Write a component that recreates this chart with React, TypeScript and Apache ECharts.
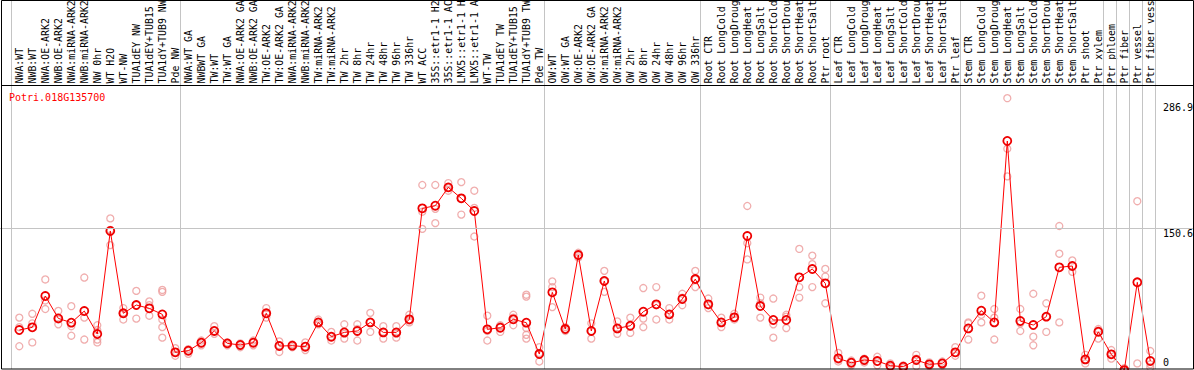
import React, { useEffect, useRef } from "react";
import * as echarts from "echarts";

const categories = [
  "NWA:WT", "NWB:WT", "NWA:OE-ARK2", "NWB:OE-ARK2", "NWA:miRNA-ARK2", "NWB:miRNA-ARK2",
  "NW 0hr", "WT H2O", "WT-NW", "TUA1dEY NW", "TUA1dEY+TUB15", "TUA1dY+TUB9 NW", "Pde NW",
  "NWA:WT GA", "NWBWT GA", "TW:WT", "TW:WT GA", "NWA:OE-ARK2 GA", "NWB:OE-ARK2 GA",
  "TW:OE-ARK2", "TW:OE-ARK2 GA", "NWA:miRNA-ARK2", "NWB:miRNA-ARK2", "TW:miRNA-ARK2",
  "TW:miRNA-ARK2", "TW 2hr", "TW 8hr", "TW 24hr", "TW 48hr", "TW 96hr", "TW 336hr",
  "WT ACC", "35S::etr1-1 H2O", "35S::etr1-1 ACC", "LMX5::etr1-1 H2O", "LMX5::etr1-1 ACC",
  "WT-TW", "TUA1dEY TW", "TUA1dEY+TUB15", "TUA1dY+TUB9 TW", "Pde TW",
  "OW:WT", "OW:WT GA", "OW:OE-ARK2", "OW:OE-ARK2 GA", "OW:miRNA-ARK2", "OW:miRNA-ARK2",
  "OW 2hr", "OW 8hr", "OW 24hr", "OW 48hr", "OW 96hr", "OW 336hr",
  "Root CTR", "Root LongCold", "Root LongDrought", "Root LongHeat", "Root LongSalt",
  "Root ShortCold", "Root ShortDrought", "Root ShortHeat", "Root ShortSalt", "Ptr root",
  "Leaf CTR", "Leaf LongCold", "Leaf LongDrought", "Leaf LongHeat", "Leaf LongSalt",
  "Leaf ShortCold", "Leaf ShortDrought", "Leaf ShortHeat", "Leaf ShortSalt", "Ptr leaf",
  "Stem CTR", "Stem LongCold", "Stem LongDrought", "Stem LongHeat", "Stem LongSalt",
  "Stem ShortCold", "Stem ShortDrought", "Stem ShortHeat", "Stem ShortSalt", "Ptr shoot",
  "Ptr xylem", "Ptr phloem", "Ptr fiber", "Ptr vessel", "Ptr fiber vessel",
];

const meanValues = [
  44.0, 46.8, 79.6, 56.2, 51.7, 63.9, 39.8, 147.8, 61.5, 70.2, 66.7, 60.4, 20.6,
  22.3, 30.7, 43.0, 30.0, 28.3, 30.7, 61.5, 27.2, 27.6, 26.5, 52.0, 37.0, 41.5, 43.0,
  52.0, 41.5, 41.5, 55.2, 171.5, 174.3, 193.5, 182.0, 168.7, 44.7, 46.4, 55.2, 51.7, 18.8,
  83.5, 45.0, 122.6, 43.0, 95.4, 45.7, 48.5, 63.2, 70.9, 60.4, 76.5, 97.4,
  70.9, 52.0, 57.3, 142.5, 69.1, 54.5, 54.5, 99.2, 107.9, 92.9,
  14.3, 9.7, 12.5, 11.5, 6.6, 5.6, 12.5, 8.0, 9.0, 20.6,
  45.7, 64.3, 52.0, 242.1, 53.4, 49.2, 58.0, 109.7, 111.1, 13.2,
  42.2, 18.5, 2.0, 94.0, 11.5,
];

const replicateValues = [
  [57, 47, 27], [61, 51, 31], [97, 75, 66], [64, 55, 50], [69, 48, 38], [99, 57, 34],
  [49, 44, 34, 31], [161, 149, 133], [67, 62, 55], [85, 70, 56], [74, 70, 59],
  [86, 84, 55, 47, 36], [25, 21, 17],
  [24, 22, 19], [33, 30, 28], [48, 43, 40], [31, 30, 28], [30, 28, 26], [33, 31, 28],
  [67, 61, 57], [32, 28, 21], [29, 28, 26], [31, 27, 23], [55, 52, 50], [42, 37, 33],
  [50, 40, 35], [50, 45, 33], [62, 52, 42], [48, 42, 35], [48, 40, 36], [60, 54, 52],
  [196, 168, 150], [196, 171, 156], [198, 193, 190], [199, 182, 165], [190, 172, 142],
  [59, 43, 33], [49, 48, 42], [60, 57, 49], [81, 79, 46, 39, 35], [26, 20, 11],
  [95, 89, 68], [47, 45, 43], [125, 122, 120], [51, 43, 35], [106, 95, 84], [53, 45, 40],
  [57, 48, 41], [88, 56, 47], [89, 70, 55], [67, 60, 55], [82, 78, 70], [106, 97, 89],
  [77, 70, 67], [57, 52, 47], [61, 57, 55], [174, 135, 118], [78, 72, 57],
  [77, 50, 36], [60, 58, 46], [129, 89, 78], [122, 113, 89], [108, 100, 72],
  [20, 13, 11], [12, 10, 7], [14, 12, 10], [16, 11, 7], [9, 6, 5],
  [7, 5, 4], [18, 14, 6], [10, 8, 6], [11, 9, 7], [26, 20, 17],
  [51, 52, 34], [80, 60, 52], [66, 57, 34], [287, 234, 205], [66, 51, 43],
  [82, 37, 28], [72, 58, 42], [153, 124, 52], [117, 111, 105], [18, 13, 9],
  [45, 42, 35], [23, 19, 14], [4, 2, 1], [179, 9], [22, 8, 5],
];

const groupBoundaries = [0, 13, 41, 53, 63, 73, 84, 85, 86, 87, 88];
const yAxisMax = 300.8;
const gridLineValue = 150.6;
const yTickLabels = ["286.9", "150.6", "0"];
const geneId = "Potri.018G135700";

export default function App() {
  const ref = useRef<HTMLDivElement>(null);

  useEffect(() => {
    document.body.style.margin = "0";
    const chart = echarts.init(ref.current!, null, { renderer: "svg" });
    const mono = "DejaVu Sans Mono";

    const repData: number[][] = [];
    replicateValues.forEach((vals, i) => vals.forEach((v) => repData.push([i, v])));
    const meanData = meanValues.map((v, i) => [i, v]);

    const option: any = {
      animation: false,
      backgroundColor: "#ffffff",
      title: {
        text: geneId,
        left: 9,
        top: 92,
        padding: 0,
        textStyle: { color: "#ff0000", fontFamily: mono, fontSize: 10, fontWeight: "normal" },
      },
      grid: [
        { left: 12.8, top: 85, width: 1144, height: 287, containLabel: false, outerBoundsMode: "none" },
        { left: 11.5, top: 0, width: 1144, height: 369, containLabel: false, outerBoundsMode: "none" },
        { left: 0, top: 85, width: 1194, height: 287, containLabel: false, outerBoundsMode: "none" },
      ],
      xAxis: [
        {
          type: "category",
          gridIndex: 0,
          data: categories,
          position: "top",
          boundaryGap: true,
          axisLine: { show: false },
          axisTick: { show: false },
          splitLine: { show: false },
          axisLabel: {
            interval: 0,
            rotate: 90,
            margin: 1.5,
            hideOverlap: false,
            fontFamily: mono,
            fontSize: 9.9,
            color: "#000000",
            padding: [0, 0, 4, 0],
            width: 88,
            overflow: "truncate",
            ellipsis: "",
          },
        },
        { type: "value", gridIndex: 1, min: 0, max: 88, show: false },
        { type: "value", gridIndex: 2, min: 0, max: 1, show: false },
      ],
      yAxis: [
        { type: "value", gridIndex: 0, min: 0, max: yAxisMax, show: false },
        { type: "value", gridIndex: 1, min: 0, max: 1, show: false },
        { type: "value", gridIndex: 2, min: 0, max: yAxisMax, show: false },
      ],
      series: [
        {
          type: "line",
          xAxisIndex: 1,
          yAxisIndex: 1,
          data: [[0, -1]],
          symbol: "none",
          lineStyle: { opacity: 0 },
          silent: true,
          markLine: {
            silent: true,
            symbol: ["none", "none"],
            label: { show: false },
            lineStyle: { color: "#c4c4c4", type: "solid", width: 1 },
            data: groupBoundaries.map((b) => ({ xAxis: b })),
          },
        },
        {
          type: "line",
          xAxisIndex: 2,
          yAxisIndex: 2,
          data: [[0, -10]],
          symbol: "none",
          lineStyle: { opacity: 0 },
          silent: true,
          markLine: {
            silent: true,
            symbol: ["none", "none"],
            label: { show: false },
            lineStyle: { color: "#c4c4c4", type: "solid", width: 1 },
            data: [{ yAxis: gridLineValue }],
          },
        },
        {
          type: "scatter",
          xAxisIndex: 0,
          yAxisIndex: 0,
          data: repData,
          symbol: "circle",
          symbolSize: 7,
          itemStyle: { color: "rgba(0,0,0,0)", borderColor: "#ec9a9a", borderWidth: 1.3 },
          z: 3,
        },
        {
          type: "line",
          xAxisIndex: 0,
          yAxisIndex: 0,
          data: meanData,
          symbol: "circle",
          symbolSize: 8,
          clip: false,
          lineStyle: { color: "#ff0000", width: 1 },
          itemStyle: { color: "rgba(255,255,255,0)", borderColor: "#ee0000", borderWidth: 1.8 },
          z: 4,
        },
      ],
    };
    chart.setOption(option);

    const bottomY = 369;
    const labelEls = yTickLabels.map((t) => {
      const py = chart.convertToPixel({ yAxisIndex: 0 }, parseFloat(t)) as number;
      const y = Math.min(Math.max(py, 102), bottomY - 12);
      return {
        type: "text",
        left: 1163,
        top: y,
        z: 100,
        style: { text: t, fill: "#000000", font: `10px ${mono}` },
      };
    });

    chart.setOption({
      graphic: [
        {
          type: "rect",
          z: 100,
          silent: true,
          shape: { x: 1.5, y: 0.5, width: 1192, height: 368.5 },
          style: { fill: "none", stroke: "#000000", lineWidth: 1 },
        },
        {
          type: "line",
          z: 100,
          silent: true,
          shape: { x1: 1.5, y1: 85.5, x2: 1193.5, y2: 85.5 },
          style: { stroke: "#000000", lineWidth: 1 },
        },
        ...labelEls,
      ],
    });

    return () => chart.dispose();
  }, []);

  return (
    <div
      ref={ref}
      style={{ position: "fixed", left: 0, top: 0, width: 1194, height: 370, background: "#ffffff" }}
    />
  );
}
